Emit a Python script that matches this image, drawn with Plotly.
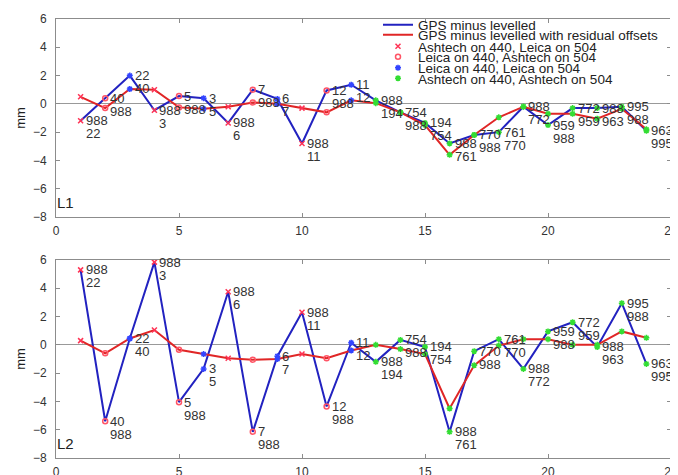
import plotly.graph_objects as go

# ---------------- data ----------------
x_idx = list(range(1, 25))
top_labels = ["988", "40", "22", "988", "5", "3", "988", "7", "6", "988", "12", "11",
              "988", "754", "194", "988", "770", "761", "988", "959", "772", "988", "995", "963"]
bottom_labels = ["22", "988", "40", "3", "988", "5", "6", "988", "7", "11", "988", "12",
                 "194", "988", "754", "761", "988", "770", "772", "988", "959", "963", "988", "995"]
# instrument combination per point
combo = ["AL", "LA", "LL", "AL", "LA", "LL", "AL", "LA", "LL", "AL", "LA", "LL",
         "AA", "AA", "AA", "AA", "AA", "AA", "AA", "AA", "AA", "AA", "AA", "AA"]

l1_gps = [-1.2, 0.4, 2.0, -0.45, 0.55, 0.4, -1.35, 1.0, 0.35, -2.8, 0.95, 1.35,
          0.25, -0.6, -1.35, -2.8, -2.2, -2.0, -0.2, -1.5, -0.3, -0.3, -0.2, -1.9]
l1_res = [0.5, -0.3, 1.05, 1.0, -0.25, -0.35, -0.2, 0.1, 0.0, -0.3, -0.6, 0.25,
          0.05, -0.6, -1.5, -3.6, -2.2, -0.95, -0.2, -0.7, -0.7, -1.05, -0.35, -1.8]
l2_gps = [5.3, -5.4, 0.45, 5.85, -4.05, -1.7, 3.75, -6.15, -0.8, 2.3, -4.35, 0.15,
          -1.2, 0.35, -0.15, -6.15, -0.45, 0.4, -1.7, 0.95, 1.6, -0.15, 2.95, -1.35]
l2_res = [0.3, -0.6, 0.45, 1.05, -0.35, -0.65, -0.95, -1.05, -1.0, -0.65, -0.95, -0.4,
          0.0, -0.3, -0.65, -4.5, -1.45, -0.05, 0.4, 0.4, 0.0, 0.0, 0.95, 0.5]

panel_names = ["L1", "L2"]
y_ticks = [-8, -6, -4, -2, 0, 2, 4, 6]
x_ticks = [0, 5, 10, 15, 20, 25]

combo_names = {
    "AL": "Ashtech on 440, Leica on 504",
    "LA": "Leica on 440, Ashtech on 504",
    "LL": "Leica on 440, Leica on 504",
    "AA": "Ashtech on 440, Ashtech on 504",
}
combo_style = {
    "AL": dict(symbol="x-thin-open", color="#ff3355"),
    "LA": dict(symbol="circle-open", color="#ff5566"),
    "LL": dict(symbol="asterisk-open", color="#3344ff"),
    "AA": dict(symbol="asterisk-open", color="#33dd33"),
}

BLUE = "#2222c0"
RED = "#e02626"
GRAY = "#8c8c8c"
FONT = "Liberation Sans, Arial, sans-serif"

fig = go.Figure()

panels = [("x", "y", l1_gps, l1_res), ("x2", "y2", l2_gps, l2_res)]

# page body has an 8px margin, so the figure is 8px smaller than the window
OFF = 8
W, H = 678 - OFF, 475 - OFF
ML, MR, MT, MB = 56 - OFF, 7, 19 - OFF, 17
plot_h = H - MT - MB
plot_w = W - ML - MR
def py2paper(py_screen):
    return (H - MB - (py_screen - OFF)) / plot_h
def px2paper(px_screen):
    return (px_screen - OFF - ML) / plot_w

legend_rows = [25, 35, 46.5, 57, 68, 78.5]
legend_ids = ["legend", "legend2", "legend3", "legend4", "legend5", "legend6"]

for p, (xa, ya, gps, res) in enumerate(panels):
    show = p == 0
    fig.add_trace(go.Scatter(x=x_idx, y=gps, mode="lines", xaxis=xa, yaxis=ya,
                             line=dict(color=BLUE, width=2),
                             name="GPS minus levelled", showlegend=show,
                             legend=legend_ids[0]))
    fig.add_trace(go.Scatter(x=x_idx, y=res, mode="lines", xaxis=xa, yaxis=ya,
                             line=dict(color=RED, width=2),
                             name="GPS minus levelled with residual offsets",
                             showlegend=show, legend=legend_ids[1]))
    for k, c in enumerate(["AL", "LA", "LL", "AA"]):
        xs, ys = [], []
        for i, cc in enumerate(combo):
            if cc == c:
                xs += [x_idx[i], x_idx[i]]
                ys += [gps[i], res[i]]
        st = combo_style[c]
        fig.add_trace(go.Scatter(x=xs, y=ys, mode="markers", xaxis=xa, yaxis=ya,
                                 marker=dict(symbol=st["symbol"], size=5,
                                             color=st["color"],
                                             line=dict(color=st["color"], width=1.5)),
                                 name=combo_names[c], showlegend=show,
                                 legend=legend_ids[2 + k]))
    for i in range(len(x_idx)):
        for txt, ysh in ((top_labels[i], 0), (bottom_labels[i], -13)):
            fig.add_annotation(x=x_idx[i], y=gps[i], xref=xa, yref=ya, text=txt,
                               showarrow=False, xanchor="left", yanchor="middle",
                               xshift=3, yshift=ysh,
                               font=dict(family=FONT, size=13, color="#333333"))
    fig.add_annotation(x=0, y=0, xref=xa + " domain", yref=ya + " domain",
                       text=panel_names[p], showarrow=False, xanchor="left",
                       yanchor="bottom", xshift=-1, yshift=4,
                       font=dict(family=FONT, size=15, color="#222222"))

axis_common = dict(showgrid=False, ticks="inside", ticklen=4, tickcolor=GRAY,
                   showline=True, linecolor=GRAY, linewidth=1, mirror="ticks",
                   tickfont=dict(family=FONT, size=12, color="#333333"))

top_dom = [py2paper(217), 1.0]
bot_dom = [0.0, py2paper(260)]

fig.update_layout(
    width=W, height=H,
    margin=dict(l=ML, r=MR, t=MT, b=MB, autoexpand=False),
    paper_bgcolor="white", plot_bgcolor="white",
    font=dict(family=FONT, size=12, color="#222222"),
    xaxis=dict(domain=[0, 1], range=[0, 25], tickvals=x_ticks, anchor="y",
               zeroline=False, ticklabelstandoff=3, **axis_common),
    yaxis=dict(domain=top_dom, range=[-8, 6], tickvals=y_ticks, anchor="x",
               zeroline=True, zerolinecolor="#999999", zerolinewidth=1,
               ticklabelstandoff=6,
               title=dict(text="mm", standoff=4, font=dict(family=FONT, size=13)),
               **axis_common),
    xaxis2=dict(domain=[0, 1], range=[0, 25], tickvals=x_ticks, anchor="y2",
                zeroline=False, ticklabelstandoff=3, **axis_common),
    yaxis2=dict(domain=bot_dom, range=[-8, 6], tickvals=y_ticks, anchor="x2",
                zeroline=True, zerolinecolor="#999999", zerolinewidth=1,
                ticklabelstandoff=6,
                title=dict(text="mm", standoff=4, font=dict(family=FONT, size=13)),
                **axis_common),
)

for lid, row in zip(legend_ids, legend_rows):
    fig.update_layout({lid: dict(x=px2paper(378), y=py2paper(row), xanchor="left",
                                 yanchor="middle", bgcolor="rgba(0,0,0,0)",
                                 borderwidth=0,
                                 font=dict(family=FONT, size=13.5, color="#222222"))})

fig.write_html("out.html")
